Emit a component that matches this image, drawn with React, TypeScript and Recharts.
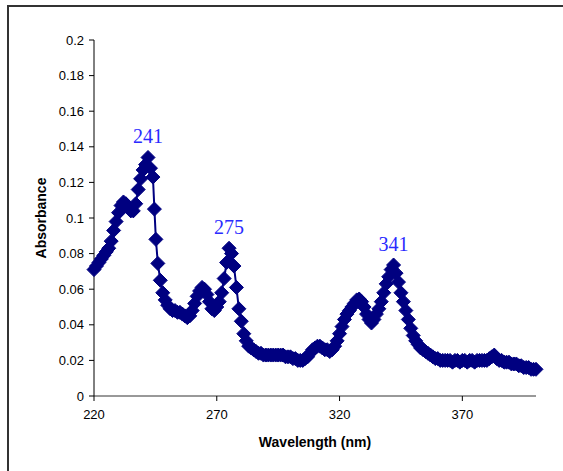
import React from "react";
import { LineChart, Line, XAxis, YAxis } from "recharts";

const wavelengths = [
  220, 221, 222, 223, 224, 225, 226, 227, 228, 229,
  230, 231, 232, 233, 234, 235, 236, 237, 238, 239,
  240, 241, 242, 243, 244, 244.6, 245.2, 246, 247, 248, 249,
  250, 251, 252, 253, 254, 255, 256, 257, 258, 259,
  260, 261, 262, 263, 264, 265, 266, 267, 268, 269,
  270, 271, 272, 273, 274, 275, 276, 277, 278, 279,
  280, 281, 282, 283, 284, 285, 286, 287, 288, 289,
  290, 291, 292, 293, 294, 295, 296, 297, 298, 299,
  300, 301, 302, 303, 304, 305, 306, 307, 308, 309,
  310, 311, 312, 313, 314, 315, 316, 317, 318, 319,
  320, 321, 322, 323, 324, 325, 326, 327, 328, 329,
  330, 331, 332, 333, 334, 335, 336, 337, 338, 339,
  340, 341, 342, 343, 344, 345, 346, 347, 348, 349,
  350, 351, 352, 353, 354, 355, 356, 357, 358, 359,
  360, 361, 362, 363, 364, 365, 366, 367, 368, 369,
  370, 371, 372, 373, 374, 375, 376, 377, 378, 379,
  380, 381, 382, 383, 384, 385, 386, 387, 388, 389,
  390, 391, 392, 393, 394, 395, 396, 397, 398, 399,
  400,
];

const absorbance = [
  0.071, 0.073, 0.075, 0.077, 0.079, 0.081, 0.083, 0.087, 0.093, 0.098,
  0.103, 0.107, 0.109, 0.108, 0.106, 0.104, 0.104, 0.108, 0.116, 0.122,
  0.127, 0.13, 0.134, 0.128, 0.123, 0.105, 0.088, 0.0745, 0.065, 0.058, 0.054,
  0.051, 0.049, 0.048, 0.048, 0.047, 0.047, 0.046, 0.045, 0.044, 0.045,
  0.048, 0.052, 0.056, 0.059, 0.061, 0.06, 0.057, 0.053, 0.049, 0.048,
  0.05, 0.053, 0.058, 0.066, 0.075, 0.083, 0.08, 0.073, 0.061, 0.049,
  0.042, 0.035, 0.031, 0.028, 0.027, 0.026, 0.025, 0.024, 0.024, 0.023,
  0.023, 0.023, 0.023, 0.023, 0.023, 0.023, 0.023, 0.023, 0.022, 0.022,
  0.022, 0.021, 0.021, 0.02, 0.02, 0.02, 0.021, 0.022, 0.024, 0.026,
  0.027, 0.028, 0.028, 0.027, 0.026, 0.026, 0.025, 0.026, 0.028, 0.031,
  0.035, 0.039, 0.043, 0.046, 0.048, 0.05, 0.052, 0.054, 0.0545, 0.053,
  0.05, 0.046, 0.043, 0.041, 0.043, 0.046, 0.049, 0.053, 0.058, 0.063,
  0.067, 0.071, 0.0736, 0.069, 0.064, 0.058, 0.053, 0.048, 0.043, 0.038,
  0.034, 0.031, 0.029, 0.027, 0.026, 0.025, 0.024, 0.023, 0.022, 0.021,
  0.021, 0.02, 0.02, 0.02, 0.02, 0.02, 0.019, 0.02, 0.02, 0.019,
  0.02, 0.02, 0.019, 0.02, 0.02, 0.019, 0.02, 0.02, 0.02, 0.02,
  0.02, 0.021, 0.022, 0.023, 0.021, 0.02, 0.02, 0.019, 0.019, 0.019,
  0.018, 0.018, 0.018, 0.017, 0.017, 0.016, 0.016, 0.016, 0.015, 0.015,
  0.015,
];

const peakWavelengths = [242, 275, 342];
const peakLabels = ["241", "275", "341"];

const xTicks = [220, 270, 320, 370];
const yTicks = [0, 0.02, 0.04, 0.06, 0.08, 0.1, 0.12, 0.14, 0.16, 0.18, 0.2];

const data = wavelengths.map((wl, i) => ({ wl, abs: absorbance[i] }));

const NAVY = "#000080";
const H = 7;

const renderDot = (props: any) => {
  const { cx, cy, index, payload } = props;
  if (cx == null || cy == null) return <g key={`d${index}`} />;
  const pi = peakWavelengths.indexOf(payload.wl);
  return (
    <g key={`d${index}`}>
      <polygon
        points={`${cx},${cy - H} ${cx + H},${cy} ${cx},${cy + H} ${cx - H},${cy}`}
        fill={NAVY}
        stroke={NAVY}
        strokeWidth={1}
      />
      {pi >= 0 && (
        <text
          x={cx}
          y={cy - 14}
          textAnchor="middle"
          fontFamily="'Liberation Serif', 'Times New Roman', serif"
          fontSize={20}
          fill="#2a2aff"
        >
          {peakLabels[pi]}
        </text>
      )}
    </g>
  );
};

export default function App() {
  return (
    <div
      style={{
        position: "absolute",
        left: 0,
        top: 0,
        width: 563,
        height: 471,
        overflow: "hidden",
        background: "#fff",
      }}
    >
      <div
        style={{
          position: "absolute",
          left: 7,
          top: 5,
          width: 700,
          height: 700,
          borderTop: "2px solid #333",
          borderLeft: "2px solid #333",
        }}
      />
      <div style={{ position: "absolute", left: 0, top: 0 }}>
        <LineChart
          width={563}
          height={471}
          data={data}
          margin={{ top: 40, right: 27, bottom: 0, left: 0 }}
          style={{ fontFamily: "'Liberation Sans', Arial, sans-serif" }}
        >
          <XAxis
            dataKey="wl"
            type="number"
            domain={[220, 400]}
            ticks={xTicks}
            height={75}
            stroke="#333"
            tickLine={{ stroke: "#000" }}
            tickSize={5}
            tickMargin={9}
            tick={{ fill: "#000", fontSize: 13 }}
            label={{
              value: "Wavelength (nm)",
              position: "insideBottom",
              offset: 24,
              style: { fontWeight: "bold", fontSize: 14, fill: "#000" },
            }}
          />
          <YAxis
            type="number"
            domain={[0, 0.2]}
            ticks={yTicks}
            width={94}
            stroke="#000"
            tickSize={5}
            tickMargin={5}
            tick={{ fill: "#000", fontSize: 13 }}
            label={{
              value: "Absorbance",
              angle: -90,
              position: "insideLeft",
              offset: 41,
              style: { fontWeight: "bold", fontSize: 14, fill: "#000", textAnchor: "middle" },
            }}
          />
          <Line
            dataKey="abs"
            stroke={NAVY}
            strokeWidth={2}
            dot={renderDot}
            activeDot={false}
            isAnimationActive={false}
          />
        </LineChart>
      </div>
    </div>
  );
}
